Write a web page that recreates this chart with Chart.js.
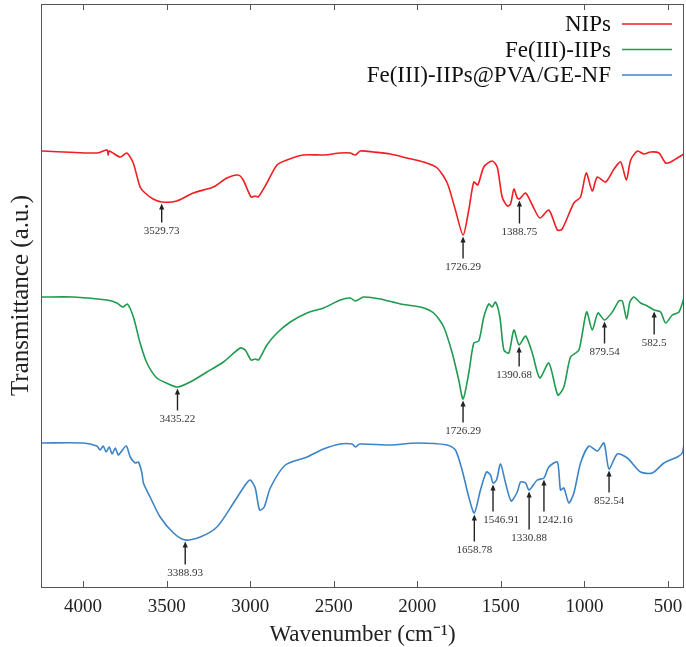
<!DOCTYPE html>
<html>
<head>
<meta charset="utf-8">
<script src="https://cdn.jsdelivr.net/npm/chart.js@4.4.1/dist/chart.umd.min.js"></script>
<style>
  body { margin: 0; background: #fff; }
  canvas { display: block; }
</style>
</head>
<body>
<canvas id="ftir" width="686" height="647"></canvas>
<script>
// FT-IR spectra, wavenumber (cm-1) and transmittance (a.u., offset per sample)
const seriesNames = ["NIPs", "Fe(III)-IIPs", "Fe(III)-IIPs@PVA/GE-NF"];

const nipsWn = [4247, 3918, 3856, 3850, 3844, 3778, 3738, 3700, 3659, 3629, 3581, 3529, 3439, 3341, 3221, 3139, 3072, 3042, 2995, 2970, 2952, 2900, 2840, 2780, 2682, 2562, 2461, 2401, 2371, 2341, 2263, 2161, 2061, 1963, 1881, 1821, 1772, 1726, 1692, 1662, 1638, 1602, 1552, 1522, 1492, 1462, 1442, 1422, 1402, 1389, 1352, 1312, 1267, 1213, 1162, 1133, 1063, 1023, 989, 953, 923, 873, 823, 783, 749, 723, 683, 644, 604, 554, 514, 484, 444, 404];
const nipsT = [436, 434, 437, 432, 436, 430, 434, 424, 400, 394, 388, 385, 386, 394, 400, 409, 412, 407, 390, 391, 390, 404, 422, 427, 432, 432, 434, 434, 432, 436, 435, 433, 429, 425, 419, 404, 377, 352, 377, 405, 402, 420, 426, 420, 390, 381, 383, 398, 389, 388, 394, 382, 369, 377, 357, 358, 384, 390, 414, 396, 410, 405, 418, 425, 407, 427, 436, 433, 435, 434, 424, 425, 429, 433];

const feWn = [4247, 4058, 3858, 3798, 3762, 3735, 3699, 3659, 3618, 3559, 3489, 3435, 3359, 3259, 3160, 3060, 3030, 2995, 2970, 2950, 2900, 2840, 2760, 2660, 2561, 2461, 2401, 2371, 2321, 2221, 2101, 1981, 1902, 1842, 1791, 1752, 1726, 1692, 1662, 1632, 1602, 1572, 1552, 1532, 1506, 1482, 1452, 1422, 1391, 1352, 1312, 1267, 1213, 1159, 1123, 1083, 1033, 987, 953, 919, 880, 833, 794, 773, 747, 728, 704, 664, 623, 583, 544, 514, 474, 434, 404];
const feT = [290, 290, 287, 284, 280, 283, 270, 244, 224, 209, 203, 200, 205, 215, 225, 239, 237, 227, 228, 227, 242, 254, 265, 274, 279, 287, 289, 286, 290, 288, 283, 280, 274, 260, 234, 207, 188, 214, 244, 246, 270, 283, 280, 285, 270, 237, 234, 257, 242, 251, 234, 209, 224, 192, 200, 230, 237, 275, 257, 274, 267, 275, 286, 286, 268, 285, 290, 284, 281, 277, 275, 264, 272, 275, 289];

const nfWn = [4247, 3998, 3918, 3898, 3880, 3862, 3844, 3826, 3808, 3790, 3778, 3742, 3718, 3688, 3669, 3648, 3639, 3599, 3539, 3459, 3389, 3299, 3199, 3100, 3030, 3000, 2970, 2944, 2916, 2880, 2790, 2660, 2561, 2461, 2390, 2371, 2345, 2161, 2001, 1821, 1772, 1732, 1692, 1659, 1622, 1586, 1562, 1547, 1526, 1502, 1472, 1438, 1402, 1382, 1352, 1331, 1282, 1242, 1213, 1162, 1143, 1123, 1093, 1063, 1023, 973, 923, 883, 853, 803, 743, 664, 593, 524, 444, 414, 404];
const nfT = [144, 144, 141, 137, 141, 135, 140, 133, 139, 132, 134, 141, 130, 124, 125, 114, 104, 90, 70, 54, 47, 50, 60, 84, 102, 107, 99, 77, 80, 99, 122, 130, 138, 143, 143, 140, 143, 142, 144, 142, 137, 117, 90, 74, 97, 115, 112, 104, 107, 123, 104, 86, 95, 105, 104, 97, 107, 109, 120, 125, 97, 99, 84, 94, 124, 141, 136, 144, 118, 133, 129, 115, 114, 124, 130, 134, 143];

const xTickValues = [4000, 3500, 3000, 2500, 2000, 1500, 1000, 500];

// labelled peaks: which series, wavenumber, text
const peakSeries = [0, 0, 0, 1, 1, 1, 1, 1, 2, 2, 2, 2, 2, 2];
const peakWn = [3529.73, 1726.29, 1388.75, 3435.22, 1726.29, 1390.68, 879.54, 582.5, 3388.93, 1658.78, 1546.91, 1330.88, 1242.16, 852.54];
const peakText = ["3529.73", "1726.29", "1388.75", "3435.22", "1726.29", "1390.68", "879.54", "582.5", "3388.93", "1658.78", "1546.91", "1330.88", "1242.16", "852.54"];

// arrow look
const arrowLen = [19, 22, 23, 22, 22, 20, 22, 23, 23, 27, 27, 38, 32, 22];
const labelDx = [0, 0, 0, 0, 0, -5, 0, 0, 0, 0, 8, 0, 11, 0];

const colors = ["#f01e23", "#1f9a4f", "#3d84c6"];
const serif = "'Liberation Serif', 'Times New Roman', serif";

function pts(wn, t) {
    return wn.map((w, i) => ({ x: w, y: t[i] }));
}
const allWn = [nipsWn, feWn, nfWn];
const allT = [nipsT, feT, nfT];

const frameAndMarks = {
    id: "frameAndMarks",
    afterDatasetsDraw(chart) {
        const ctx = chart.ctx;
        const ca = chart.chartArea;
        const xs = chart.scales.x, ys = chart.scales.y;
        ctx.save();

        // box + inward ticks
        ctx.strokeStyle = "#555";
        ctx.lineWidth = 1;
        ctx.strokeRect(Math.round(ca.left) + 0.5, Math.round(ca.top) + 0.5, Math.round(ca.right - ca.left) - 1, Math.round(ca.bottom - ca.top));
        xTickValues.forEach(v => {
            const px = Math.round(xs.getPixelForValue(v)) + 0.5;
            ctx.beginPath();
            ctx.moveTo(px, ca.top); ctx.lineTo(px, ca.top + 6);
            ctx.moveTo(px, ca.bottom); ctx.lineTo(px, ca.bottom - 6);
            ctx.stroke();
        });

        // peak arrows
        ctx.fillStyle = "#222";
        ctx.strokeStyle = "#222";
        ctx.font = "11px " + serif;
        ctx.textAlign = "center";
        ctx.textBaseline = "middle";
        peakWn.forEach((w, i) => {
            const s = peakSeries[i];
            const wn = allWn[s], t = allT[s];
            let k = 0;
            wn.forEach((v, j) => { if (Math.abs(v - w) < Math.abs(wn[k] - w)) k = j; });
            const px = xs.getPixelForValue(w);
            const tip = ys.getPixelForValue(t[k]) + 1.5;
            const end = tip + arrowLen[i];
            ctx.lineWidth = 1.4;
            ctx.beginPath();
            ctx.moveTo(px, tip + 4); ctx.lineTo(px, end);
            ctx.stroke();
            ctx.beginPath();
            ctx.moveTo(px, tip);
            ctx.lineTo(px - 2.6, tip + 6);
            ctx.lineTo(px + 2.6, tip + 6);
            ctx.closePath();
            ctx.fill();
            ctx.fillStyle = "#333";
            ctx.fillText(peakText[i], px + labelDx[i], end + 9);
            ctx.fillStyle = "#222";
        });

        // legend, top right inside the frame
        ctx.font = "23px " + serif;
        ctx.textAlign = "right";
        chart.data.datasets.forEach((ds, i) => {
            const y = ca.top + 20 + i * 25.5;
            ctx.fillStyle = "#111";
            ctx.fillText(ds.label, ca.right - 73, y + 1);
            ctx.strokeStyle = ds.borderColor;
            ctx.lineWidth = 1.6;
            ctx.beginPath();
            ctx.moveTo(ca.right - 62, y); ctx.lineTo(ca.right - 12, y);
            ctx.stroke();
        });
        ctx.restore();
    }
};

new Chart(document.getElementById("ftir"), {
    type: "line",
    data: {
        datasets: seriesNames.map((name, i) => ({
            label: name,
            data: pts(allWn[i], allT[i]),
            borderColor: colors[i],
            borderWidth: 1.6,
            pointRadius: 0,
            tension: 0.25,
            fill: false
        }))
    },
    options: {
        responsive: false,
        animation: false,
        layout: { padding: { top: 4, right: 2, left: 0, bottom: 0 } },
        plugins: { legend: { display: false }, tooltip: { enabled: false } },
        scales: {
            x: {
                type: "linear",
                reverse: true,
                min: 404,
                max: 4252,
                afterBuildTicks: s => { s.ticks = xTickValues.map(v => ({ value: v })); },
                afterFit: s => { s.height = 60; s.paddingLeft = 0; s.paddingRight = 0; },
                grid: { display: false, drawTicks: false },
                border: { display: false },
                ticks: { color: "#222", font: { family: serif, size: 19 }, padding: 9, maxRotation: 0, callback: v => String(v) },
                title: { display: true, text: "Wavenumber (cm\u207B\u00B9)", color: "#222", font: { family: serif, size: 23 }, padding: { top: 0, bottom: -2 } }
            },
            y: {
                min: 0,
                max: 583,
                afterFit: s => { s.width = 41; },
                grid: { display: false, drawTicks: false },
                border: { display: false },
                ticks: { display: false },
                title: { display: true, text: "Transmittance (a.u.)", color: "#222", font: { family: serif, size: 25 }, padding: { top: 6, bottom: 0 } }
            }
        }
    },
    plugins: [frameAndMarks]
});
</script>
</body>
</html>
